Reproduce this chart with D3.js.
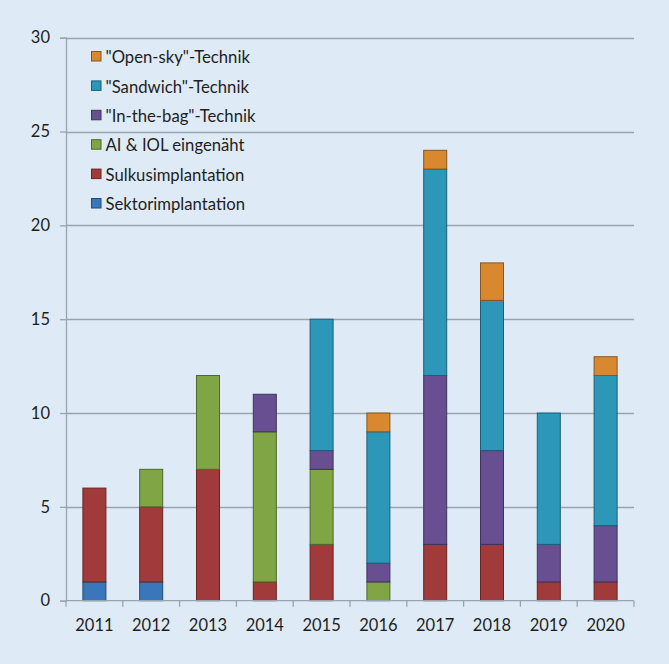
<!DOCTYPE html>
<html><head><meta charset="utf-8">
<script src="https://cdn.jsdelivr.net/npm/d3@7/dist/d3.min.js"></script>
<style>
html,body{margin:0;padding:0;background:#deebf7;}
svg{display:block;}
text{font-family:Lato,"Open Sans",sans-serif;fill:#1e1e1e;}
</style></head>
<body>
<svg id="chart" width="669" height="664"></svg>
<script>
const years = ["2011","2012","2013","2014","2015","2016","2017","2018","2019","2020"];
const seriesNames = ["Sektorimplantation","Sulkusimplantation","AI & IOL eingenäht","\"In-the-bag\"-Technik","\"Sandwich\"-Technik","\"Open-sky\"-Technik"];
const seriesColors = ["#3a76ba","#a13b3b","#7fa545","#684f92","#2d97ba","#d8882f"];
const sektor   = [1,1,0,0,0,0,0,0,0,0];
const sulkus   = [5,4,7,1,3,0,3,3,1,1];
const aiIol    = [0,2,5,8,4,1,0,0,0,0];
const inTheBag = [0,0,0,2,1,1,9,5,2,3];
const sandwich = [0,0,0,0,7,7,11,8,7,8];
const openSky  = [0,0,0,0,0,1,1,2,0,1];
const yTicks = [0,5,10,15,20,25,30];

(function(){
const seriesValues = [sektor,sulkus,aiIol,inTheBag,sandwich,openSky];
const table = years.map((yr,i)=>{const o={year:yr};seriesNames.forEach((s,k)=>o[s]=seriesValues[k][i]);return o;});
const stacked = d3.stack().keys(seriesNames)(table);

const svg = d3.select("#chart");
const mL=66, mR=634, mT=37.7, mB=600.7;
const x = d3.scaleBand().domain(years).range([mL,mR]).paddingInner(0.595).paddingOuter(0.2975);
const y = d3.scaleLinear().domain([0,30]).range([mB,mT]);
const band = d3.scaleBand().domain(years).range([mL,mR]).padding(0);

// gridlines
svg.append("g").selectAll("line").data(yTicks.filter(t=>t>0)).join("line")
  .attr("x1",mL).attr("x2",mR)
  .attr("y1",d=>Math.round(y(d))+0.5).attr("y2",d=>Math.round(y(d))+0.5)
  .attr("stroke","#9aa3ad").attr("stroke-width",1.3);

// y axis
const yAxis = svg.append("g").attr("transform",`translate(${mL},0)`)
  .call(d3.axisLeft(y).tickValues(yTicks).tickSize(6).tickPadding(10).tickFormat(d3.format("d")));
yAxis.select(".domain").attr("stroke","#9aa3ad").attr("stroke-width",1.3);
yAxis.selectAll(".tick line").attr("stroke","#9aa3ad").attr("stroke-width",1.3);
yAxis.selectAll("text").attr("font-size",16.5).style("font-family","Lato").attr("fill","#1e1e1e");

// bars
svg.append("g").selectAll("g").data(stacked).join("g")
  .attr("fill",(d,i)=>seriesColors[i])
  .attr("stroke",(d,i)=>d3.color(seriesColors[i]).darker(1.3))
  .selectAll("rect").data(d=>d.filter(p=>p[1]-p[0]>0)).join("rect")
  .attr("x",d=>x(d.data.year)).attr("width",x.bandwidth())
  .attr("y",d=>y(d[1])).attr("height",d=>y(d[0])-y(d[1]))
  .attr("stroke-width",1);

// x axis
const xg = svg.append("g").attr("transform",`translate(0,${mB})`);
xg.append("line").attr("x1",mL).attr("x2",mR).attr("y1",0).attr("y2",0)
  .attr("stroke","#9aa3ad").attr("stroke-width",1.3);
const bounds = years.map(d=>band(d)).concat([mR]);
xg.selectAll("line.tk").data(bounds).join("line").attr("class","tk")
  .attr("x1",d=>d).attr("x2",d=>d).attr("y1",0).attr("y2",6)
  .attr("stroke","#9aa3ad").attr("stroke-width",1.3);
xg.selectAll("text").data(years).join("text")
  .attr("x",d=>band(d)+band.bandwidth()/2).attr("y",30.5)
  .attr("text-anchor","middle").attr("font-size",16.5).text(d=>d);

// legend
const legendOrder = seriesNames.slice().reverse();
const legendColors = seriesColors.slice().reverse();
const lg = svg.append("g");
legendOrder.forEach((name,i)=>{
  const top0 = 51.5 + i*29.4;
  lg.append("rect").attr("x",91.5).attr("y",top0).attr("width",9.5).attr("height",9.5)
    .attr("fill",legendColors[i]).attr("stroke",d3.color(legendColors[i]).darker(1.3)).attr("stroke-width",1);
  lg.append("text").attr("x",105.5).attr("y",top0+11.7).attr("font-size",16.7).text(name);
});
})();
</script>
</body></html>
